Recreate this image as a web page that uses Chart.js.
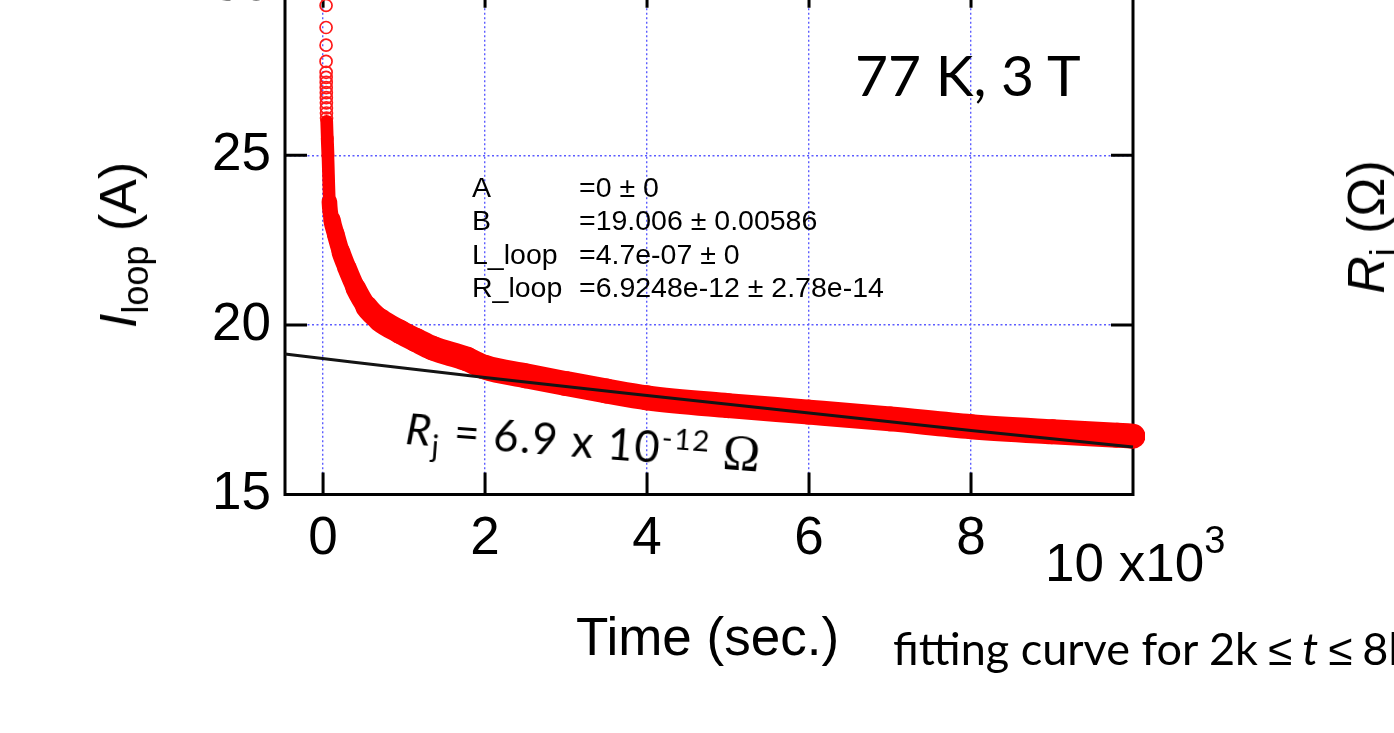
<!DOCTYPE html>
<html>
<head>
<meta charset="utf-8">
<script src="https://cdn.jsdelivr.net/npm/chart.js@4.4.1/dist/chart.umd.min.js"></script>
<style>
  html, body { margin: 0; padding: 0; background: #fff; }
  body { width: 1394px; height: 733px; overflow: hidden; position: relative; }
  #wrap { position: absolute; left: 0; top: -60px; width: 1394px; height: 800px; }
  .t { position: absolute; white-space: nowrap; color: #000; }
  .arial { font-family: "Liberation Sans", Arial, sans-serif; }
  .cal { font-family: Lato, "Open Sans", sans-serif; }
  .rot { transform: translate(-50%, -50%) rotate(-90deg); }
  .le { font-family: "Noto Sans", sans-serif; font-size: 44px; }
  sub, sup { line-height: 0; }
</style>
</head>
<body>
<div id="wrap"><canvas id="loopChart" width="1394" height="800"></canvas></div>

<div class="t arial rot" style="left:118px; top:245px; font-size:52px;"><i>I</i><sub style="font-size:36px; vertical-align:-12px; font-style:normal;">loop</sub><span style="font-style:normal;"> (A)</span></div>
<div class="t arial" style="left:576px; top:610px; font-size:53px; line-height:53px;">Time (sec.)</div>
<div class="t arial" style="left:1045px; top:536px; font-size:53px; line-height:53px;">10 x10<sup style="font-size:38px; vertical-align:28px;">3</sup></div>
<div class="t arial rot" style="left:1366px; top:227px; font-size:52px;"><i>R</i><sub style="font-size:36px; vertical-align:-12px;">j</sub> (Ω)</div>

<div class="t cal" style="left:855px; top:44px; font-size:57px; line-height:60px;">77 K, 3 T</div>

<div class="t arial" style="left:472px; top:171px; font-size:28.5px; line-height:33.4px;">
  <div>A</div><div>B</div><div>L_loop</div><div>R_loop</div>
</div>
<div class="t arial" style="left:579px; top:171px; font-size:28.5px; line-height:33.4px;">
  <div>=0 ± 0</div><div>=19.006 ± 0.00586</div><div>=4.7e-07 ± 0</div><div>=6.9248e-12 ± 2.78e-14</div>
</div>

<div class="t cal" style="left:406px; top:405px; font-size:43.5px; line-height:44px; letter-spacing:1.6px; transform-origin:0 50%; transform:rotate(4.3deg);"><i>R</i><sub style="font-size:30px; vertical-align:-11px;">j</sub> = 6.9 x 10<sup style="font-size:29px; vertical-align:15px;">-12</sup> <span style="font-family:'Liberation Serif', serif; font-size:50px;">Ω</span></div>

<div class="t cal" style="left:893px; top:624px; font-size:45px; line-height:48px;">fitting curve for <span style="word-spacing:-1.5px;">2k <span class="le">≤</span> <i>t</i> <span class="le">≤</span> 8k</span></div>

<script>
// fitted exponential (black line)
const fitTime = [-470, 2000, 4000, 6000, 8000, 10000];
const fitCurrent = [19.14, 18.45, 17.92, 17.40, 16.89, 16.40];

// early, well separated measurement points near t = 0
const sparseTime = [37, 37, 37, 37, 38, 38, 39, 39, 40, 40, 41, 41, 42, 43];
const sparseCurrent = [29.42, 28.77, 28.25, 27.77, 27.45, 27.30, 27.15, 27.00, 26.85, 26.70, 26.55, 26.40, 26.25, 26.10];

// dense measured decay (the red band), centre of the band
const bandTime = [45, 52, 60, 78, 110, 157, 220, 292, 400, 539, 700, 947, 1150, 1358, 1770, 2000, 2500, 3000, 3500, 4000, 5000, 6000, 7000, 8000, 9000, 9800, 10000];
const bandCurrent = [26.0, 25.5, 25.0, 23.64, 23.1, 22.67, 22.15, 21.7, 21.1, 20.53, 20.15, 19.8, 19.55, 19.31, 19.0, 18.75, 18.5, 18.27, 18.05, 17.85, 17.62, 17.43, 17.23, 17.0, 16.85, 16.75, 16.72];

const xTickValues = [0, 2000, 4000, 6000, 8000, 10000];
const yTickValues = [15, 20, 25, 30];
const xMin = -470, xMax = 10000, yMin = 15, yMax = 30;

const toPoints = (xs, ys) => xs.map((x, i) => ({ x: x, y: ys[i] }));

// plot frame with inward ticks, like the original plotting program
const framePlugin = {
  id: 'frame',
  beforeDatasetsDraw(chart) {
    const { ctx, chartArea: a, scales } = chart;
    ctx.save();
    ctx.strokeStyle = '#000';
    ctx.lineWidth = 3;
    ctx.strokeRect(a.left, a.top, a.right - a.left, a.bottom - a.top);
    const len = 22;
    ctx.beginPath();
    xTickValues.forEach(v => {
      if (v <= xMin || v >= xMax) return;
      const px = scales.x.getPixelForValue(v);
      ctx.moveTo(px, a.bottom); ctx.lineTo(px, a.bottom - len);
      ctx.moveTo(px, a.top); ctx.lineTo(px, a.top + len);
    });
    yTickValues.forEach(v => {
      if (v <= yMin || v >= yMax) return;
      const py = scales.y.getPixelForValue(v);
      ctx.moveTo(a.left, py); ctx.lineTo(a.left + len, py);
      ctx.moveTo(a.right, py); ctx.lineTo(a.right - len, py);
    });
    ctx.stroke();
    ctx.restore();
  }
};

const gridStyle = { color: '#5c5cff', lineWidth: 1.4, drawTicks: false };

const loopChart = new Chart(document.getElementById('loopChart'), {
  type: 'scatter',
  data: {
    datasets: [{
      label: 'fit',
      data: toPoints(fitTime, fitCurrent),
      showLine: true,
      borderColor: '#141414',
      borderWidth: 3,
      pointRadius: 0,
      cubicInterpolationMode: 'monotone',
      clip: 4
    }, {
      label: 'I_loop',
      data: toPoints(bandTime, bandCurrent),
      showLine: true,
      borderColor: '#ff0000',
      borderWidth: 24,
      borderCapStyle: 'round',
      borderJoinStyle: 'round',
      pointRadius: 0,
      cubicInterpolationMode: 'monotone',
      clip: { left: 0, top: 10, right: 12, bottom: 0 },
      segment: {
        // the band is narrow where the decay is steep, wide where it is flat
        borderWidth: ctx => {
          const dx = ctx.p1.x - ctx.p0.x, dy = ctx.p1.y - ctx.p0.y;
          const c = Math.abs(dx) / Math.max(1e-6, Math.hypot(dx, dy));
          return 10 + 15 * Math.sqrt(c);
        }
      }
    }, {
      label: 'I_loop early',
      data: toPoints(sparseTime, sparseCurrent),
      showLine: false,
      pointStyle: 'circle',
      pointRadius: 6,
      pointBorderWidth: 1.7,
      pointBorderColor: '#ff1a1a',
      pointBackgroundColor: 'rgba(255,255,255,0)',
      clip: 10
    }]
  },
  options: {
    responsive: false,
    devicePixelRatio: 1,
    animation: false,
    events: [],
    layout: { padding: { left: 0, top: 43, right: 261, bottom: 145.5 } },
    plugins: { legend: { display: false }, tooltip: { enabled: false } },
    scales: {
      x: {
        type: 'linear', min: xMin, max: xMax,
        afterBuildTicks: s => { s.ticks = xTickValues.map(v => ({ value: v })); },
        afterFit: s => { s.height = 100; },
        ticks: {
          callback: v => (v === 10000 ? '' : String(v / 1000)),
          font: { family: '"Liberation Sans", Arial, sans-serif', size: 53 },
          color: '#000', padding: 13, maxRotation: 0, autoSkip: false
        },
        grid: gridStyle,
        border: { display: false, dash: [2, 2.5] }
      },
      y: {
        type: 'linear', min: yMin, max: yMax,
        afterBuildTicks: s => { s.ticks = yTickValues.map(v => ({ value: v })); },
        afterFit: s => { s.width = 285; },
        ticks: {
          font: { family: '"Liberation Sans", Arial, sans-serif', size: 53 },
          color: '#000', padding: 14, autoSkip: false
        },
        grid: gridStyle,
        border: { display: false, dash: [2, 2.5] }
      }
    }
  },
  plugins: [framePlugin]
});
</script>
</body>
</html>
